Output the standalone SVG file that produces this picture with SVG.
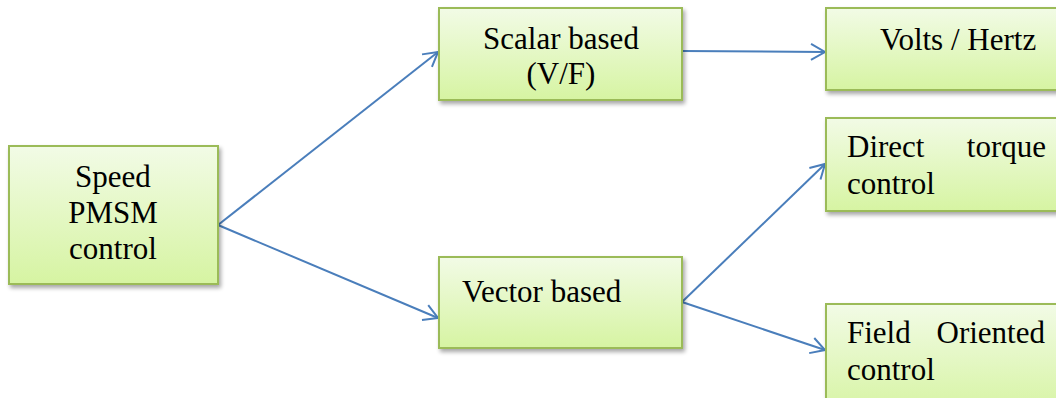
<svg xmlns="http://www.w3.org/2000/svg" width="1056" height="398" viewBox="0 0 1056 398">
  <defs>
    <linearGradient id="boxFill" x1="0" y1="0" x2="0" y2="1">
      <stop offset="0" stop-color="#f2fbe6"/>
      <stop offset="1" stop-color="#d6f4a2"/>
    </linearGradient>
    <filter id="shadow" x="-10%" y="-10%" width="130%" height="130%">
      <feGaussianBlur in="SourceAlpha" stdDeviation="2"/>
      <feOffset dx="2" dy="3" result="b"/>
      <feComponentTransfer><feFuncA type="linear" slope="0.35"/></feComponentTransfer>
      <feMerge><feMergeNode/><feMergeNode in="SourceGraphic"/></feMerge>
    </filter>
    <marker id="arrow" viewBox="0 0 20 20" refX="18" refY="10" markerWidth="20" markerHeight="20" markerUnits="userSpaceOnUse" orient="auto">
      <polyline points="4,2 18,10 4,18" fill="none" stroke="#4a7ebb" stroke-width="2"/>
    </marker>
  </defs>
  <style>
    .box { fill: url(#boxFill); stroke: #9bbb59; stroke-width: 2; filter: url(#shadow); }
    .conn { fill: none; stroke: #4a7ebb; stroke-width: 2; marker-end: url(#arrow); }
  </style>

  <g id="connectors">
    <line class="conn" x1="218" y1="225" x2="438" y2="52"/>
    <line class="conn" x1="218" y1="225" x2="438" y2="318"/>
    <line class="conn" x1="682" y1="51" x2="825" y2="52"/>
    <line class="conn" x1="682" y1="302" x2="825" y2="164"/>
    <line class="conn" x1="682" y1="302" x2="825" y2="350"/>
  </g>

  <g font-family="Liberation Serif, Times New Roman, DejaVu Serif, serif" font-size="31" fill="#000">
    <g id="speed-pmsm">
      <rect class="box" x="9" y="146" width="209" height="138"/>
      <text x="113" y="187" text-anchor="middle">Speed</text>
      <text x="113" y="223" text-anchor="middle">PMSM</text>
      <text x="113" y="259" text-anchor="middle">control</text>
    </g>

    <g id="scalar">
      <rect class="box" x="439" y="8" width="243" height="92"/>
      <text x="561" y="49" text-anchor="middle">Scalar based</text>
      <text x="561" y="84" text-anchor="middle">(V/F)</text>
    </g>

    <g id="vector">
      <rect class="box" x="439" y="257" width="243" height="91"/>
      <text x="462" y="302">Vector based</text>
    </g>

    <g id="volts-hertz">
      <rect class="box" x="826" y="8" width="240" height="82"/>
      <text x="880" y="50">Volts / Hertz</text>
    </g>

    <g id="direct-torque">
      <rect class="box" x="826" y="118" width="240" height="93"/>
      <text x="847" y="157">Direct</text>
      <text x="1046" y="157" text-anchor="end">torque</text>
      <text x="847" y="194">control</text>
    </g>

    <g id="field-oriented">
      <rect class="box" x="826" y="304" width="240" height="110"/>
      <text x="847" y="343">Field</text>
      <text x="1045" y="343" text-anchor="end">Oriented</text>
      <text x="847" y="380">control</text>
    </g>
  </g>
</svg>
